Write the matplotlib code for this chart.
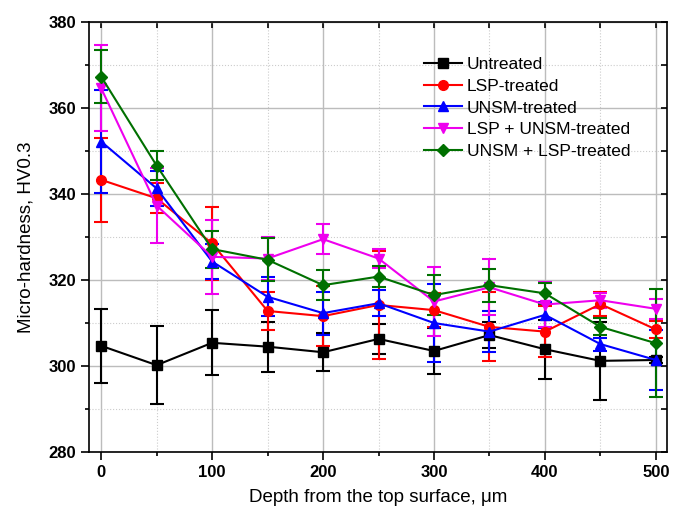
import matplotlib as mpl
mpl.use('Agg')
import matplotlib.pyplot as plt
from matplotlib.ticker import MultipleLocator
import numpy as np

plt.rcParams['font.family'] = ['Liberation Sans', 'DejaVu Sans']

# depth below surface (um)
depth = [0, 50, 100, 150, 200, 250, 300, 350, 400, 450, 500]

# micro-hardness means and standard deviations (HV0.3)
untreated = [304.7, 300.2, 305.4, 304.5, 303.2, 306.3, 303.5, 307.2, 303.9, 301.2, 301.4]
untreated_err = [8.6, 9.0, 7.6, 5.8, 4.4, 3.5, 5.4, 3.0, 6.9, 9.0, 0.8]

lsp = [343.3, 339.0, 328.5, 312.8, 311.6, 314.2, 313.0, 309.1, 308.0, 314.4, 308.5]
lsp_err = [9.7, 3.5, 8.5, 4.5, 7.0, 12.5, 4.0, 8.0, 6.0, 2.7, 2.0]

unsm = [352.2, 341.3, 324.3, 316.1, 312.3, 314.6, 310.0, 308.0, 311.9, 305.1, 301.4]
unsm_err = [12.0, 4.0, 4.0, 4.5, 5.0, 3.0, 9.0, 4.7, 3.0, 1.5, 7.0]

lsp_unsm = [364.6, 337.3, 325.4, 325.0, 329.5, 325.0, 315.0, 318.3, 314.3, 315.3, 313.3]
lsp_unsm_err = [10.0, 8.8, 8.6, 5.0, 3.5, 2.3, 8.0, 6.5, 5.3, 1.7, 2.3]

unsm_lsp = [367.3, 346.6, 327.2, 324.7, 318.8, 320.8, 316.5, 318.8, 316.9, 309.1, 305.3]
unsm_lsp_err = [6.2, 3.4, 4.3, 5.0, 3.5, 2.5, 4.7, 3.8, 2.5, 2.0, 12.5]

series = [
    (untreated, untreated_err, 'Untreated', 'black', 's'),
    (lsp, lsp_err, 'LSP-treated', '#ff0000', 'o'),
    (unsm, unsm_err, 'UNSM-treated', '#0000ff', '^'),
    (lsp_unsm, lsp_unsm_err, 'LSP + UNSM-treated', '#ee00ee', 'v'),
    (unsm_lsp, unsm_lsp_err, 'UNSM + LSP-treated', '#007000', 'D'),
]

fig = plt.figure(figsize=(6.74, 5.17), dpi=100)
ax = fig.add_axes([0.132, 0.1257, 0.8576, 0.8317])

handles = []
names = []
for vals, errs, name, col, mk in series:
    ms = 6 if mk == 'D' else 7
    eb = ax.errorbar(depth, vals, yerr=errs, color=col, marker=mk, markersize=ms,
                     linewidth=1.5, elinewidth=1.5, capsize=5, capthick=1.5)
    handles.append(eb.lines[0])
    names.append(name)

ax.set_xlim(-11, 510)
ax.set_ylim(280, 380)
ax.xaxis.set_major_locator(MultipleLocator(100))
ax.xaxis.set_minor_locator(MultipleLocator(50))
ax.yaxis.set_major_locator(MultipleLocator(20))
ax.yaxis.set_minor_locator(MultipleLocator(10))

ax.grid(which='major', color='#bcbcbc', linewidth=1.0, linestyle='-')
ax.grid(which='minor', color='#cccccc', linewidth=0.8, linestyle=':')
ax.set_axisbelow(True)

ax.tick_params(which='major', direction='out', length=6, width=1.2,
               labelsize=12, top=False, right=False)
ax.tick_params(which='minor', direction='out', length=3, width=1.2,
               top=False, right=False)
for lab in ax.get_xticklabels() + ax.get_yticklabels():
    lab.set_fontweight('bold')

# inward ticks on the opposite sides
ax.tick_params(which='both', top=True, right=True)
ax.tick_params(which='both', axis='x', labeltop=False)
ax.tick_params(which='both', axis='y', labelright=False)
for t in ax.xaxis.get_major_ticks() + ax.xaxis.get_minor_ticks():
    t.tick2line.set_marker(mpl.lines.TICKDOWN)
    t.tick2line.set_markersize(4)
for t in ax.yaxis.get_major_ticks() + ax.yaxis.get_minor_ticks():
    t.tick2line.set_marker(mpl.lines.TICKLEFT)
    t.tick2line.set_markersize(4)

for sp in ax.spines.values():
    sp.set_linewidth(1.2)

ax.set_xlabel('Depth from the top surface, \u03bcm', fontsize=13.5, labelpad=6)
ax.set_ylabel('Micro-hardness, HV0.3', fontsize=13.5, labelpad=10)

leg = ax.legend(handles, names, loc='upper left', bbox_to_anchor=(0.567, 0.935),
                frameon=False, fontsize=12.5, handlelength=2.2, handletextpad=0.3,
                labelspacing=0.38, borderaxespad=0)

fig.savefig('out.png', dpi=100)
